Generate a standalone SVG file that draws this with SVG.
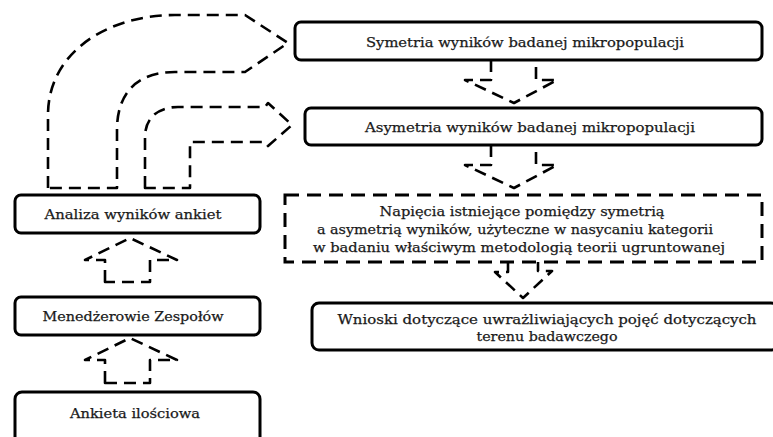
<svg xmlns="http://www.w3.org/2000/svg" width="773" height="437" viewBox="0 0 773 437">
  <style>
    .box { fill: #ffffff; stroke: #000; stroke-width: 3; }
    .dbox { fill: #ffffff; stroke: #000; stroke-width: 3; stroke-dasharray: 14 8; }
    .conn { fill: none; stroke: #000; stroke-width: 2.6; stroke-dasharray: 12 7; stroke-linejoin: round; }
    .lbl { font-family: "DejaVu Serif", "Liberation Serif", serif; font-size: 13px; fill: #1a1a1a; text-anchor: middle; stroke: #1a1a1a; stroke-width: 0.25; }
  </style>
  <rect width="773" height="437" fill="#ffffff"/>

  <!-- connectors: dashed block arrows -->
  <g id="connectors">
    <!-- Analiza -> Symetria (outer bend) -->
    <path class="conn" d="M48,188 L48,115 C48,52 108,15 175,15 L245,15 L288,43 L245,72 L175,72 C135,72 117,95 117,130 L117,188 Z"/>
    <!-- Analiza -> Asymetria (inner bend) -->
    <path class="conn" d="M145,188 L145,137 C145,118 158,107 178,107 L265,107 L268,103 L292,125 L268,146 L265,142 L190,142 L190,188 Z"/>
    <!-- Symetria -> Asymetria -->
    <path class="conn" d="M491,60 L491,80 L465,80 L514,103 L557,80 L536,80 L536,60"/>
    <!-- Asymetria -> Napięcia -->
    <path class="conn" d="M491,145 L491,165 L465,165 L514,188 L557,165 L536,165 L536,145"/>
    <!-- Napięcia -> Wnioski -->
    <path class="conn" d="M508,262 L508,272 L495,272 L523,298 L552,271 L538,271 L538,262"/>
    <!-- Menedżerowie -> Analiza -->
    <path class="conn" d="M105,282 L105,260 L85,260 L130,238 L177,260 L150,260 L150,282 Z"/>
    <!-- Ankieta -> Menedżerowie -->
    <path class="conn" d="M105,383 L105,360 L85,360 L130,338 L177,360 L150,360 L150,383 Z"/>
  </g>

  <g id="symetria">
    <rect class="box" x="295" y="22" width="467" height="38" rx="6"/>
    <text class="lbl" x="525" y="47" textLength="318" lengthAdjust="spacingAndGlyphs">Symetria wyników badanej mikropopulacji</text>
  </g>

  <g id="asymetria">
    <rect class="box" x="305" y="108" width="457" height="37" rx="6"/>
    <text class="lbl" x="530" y="132" textLength="330" lengthAdjust="spacingAndGlyphs">Asymetria wyników badanej mikropopulacji</text>
  </g>

  <g id="napiecia">
    <rect class="dbox" x="285" y="195" width="477" height="67"/>
    <text class="lbl" x="522" y="216" textLength="285" lengthAdjust="spacingAndGlyphs">Napięcia istniejące pomiędzy symetrią</text>
    <text class="lbl" x="515" y="234" textLength="396" lengthAdjust="spacingAndGlyphs">a asymetrią wyników, użyteczne w nasycaniu kategorii</text>
    <text class="lbl" x="519" y="252" textLength="412" lengthAdjust="spacingAndGlyphs">w badaniu właściwym metodologią teorii ugruntowanej</text>
  </g>

  <g id="wnioski">
    <rect class="box" x="312" y="303" width="466" height="47" rx="7"/>
    <text class="lbl" x="547" y="324" textLength="419" lengthAdjust="spacingAndGlyphs">Wnioski dotyczące uwrażliwiających pojęć dotyczących</text>
    <text class="lbl" x="547" y="341" textLength="141" lengthAdjust="spacingAndGlyphs">terenu badawczego</text>
  </g>

  <g id="analiza">
    <rect class="box" x="15" y="195" width="245" height="38" rx="6"/>
    <text class="lbl" x="133" y="219" textLength="177" lengthAdjust="spacingAndGlyphs">Analiza wyników ankiet</text>
  </g>

  <g id="menedzerowie">
    <rect class="box" x="15" y="297" width="245" height="38" rx="6"/>
    <text class="lbl" x="133" y="321" textLength="181" lengthAdjust="spacingAndGlyphs">Menedżerowie Zespołów</text>
  </g>

  <g id="ankieta">
    <rect class="box" x="15" y="392" width="245" height="60" rx="7"/>
    <text class="lbl" x="135" y="418" textLength="130" lengthAdjust="spacingAndGlyphs">Ankieta ilościowa</text>
  </g>
</svg>
